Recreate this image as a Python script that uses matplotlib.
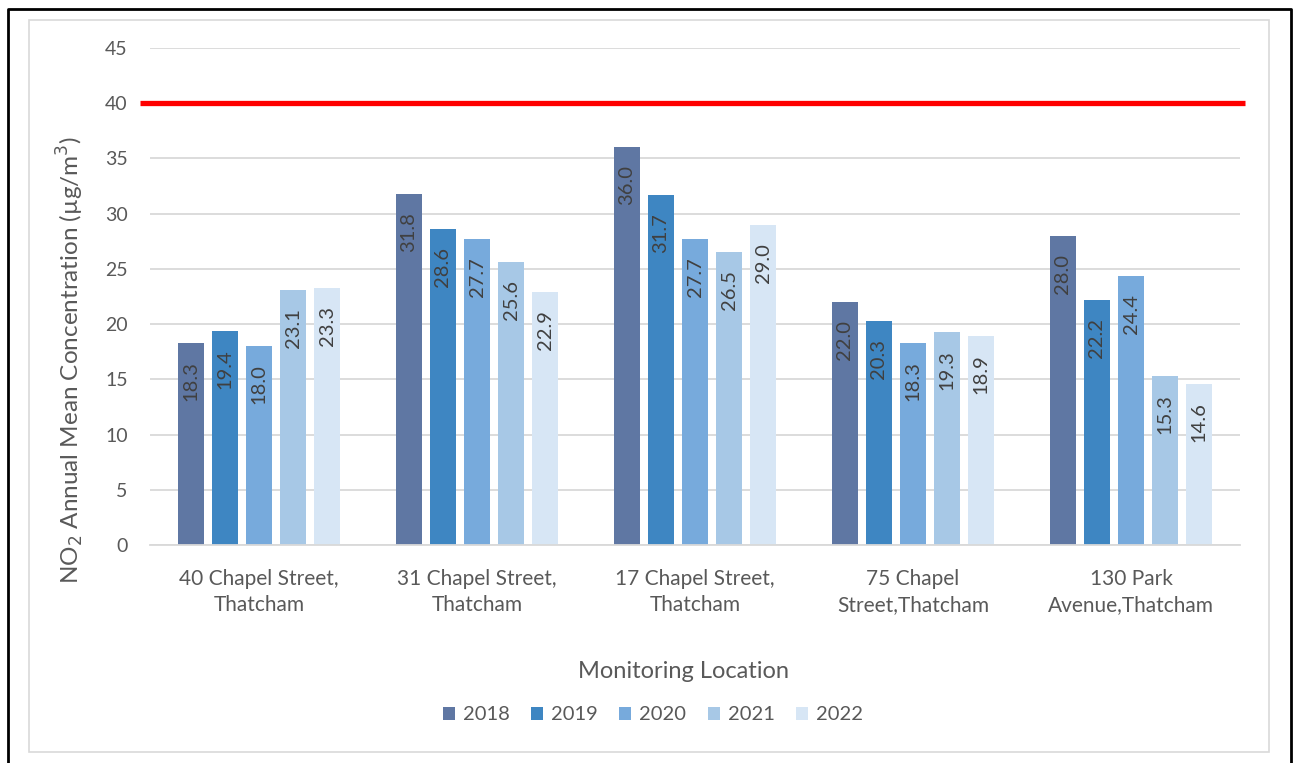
import numpy as np
import matplotlib.pyplot as plt
from matplotlib.patches import Rectangle
from matplotlib.lines import Line2D

plt.rcParams['font.family'] = ['Lato', 'DejaVu Sans']

locations = ["40 Chapel Street,\nThatcham", "31 Chapel Street,\nThatcham",
             "17 Chapel Street,\nThatcham", "75 Chapel\nStreet,Thatcham",
             "130 Park\nAvenue,Thatcham"]
years = ["2018", "2019", "2020", "2021", "2022"]
v2018 = [18.3, 31.8, 36.0, 22.0, 28.0]
v2019 = [19.4, 28.6, 31.7, 20.3, 22.2]
v2020 = [18.0, 27.7, 27.7, 18.3, 24.4]
v2021 = [23.1, 25.6, 26.5, 19.3, 15.3]
v2022 = [23.3, 22.9, 29.0, 18.9, 14.6]
limit = 40
colours = ["#5F77A3", "#3E86C2", "#77AADC", "#A7C8E6", "#D7E6F5"]

series = [v2018, v2019, v2020, v2021, v2022]

fig = plt.figure(figsize=(12.97, 7.63), dpi=100)
ax = fig.add_axes([150/1297, 1-545/763, 1090/1297, 497/763])

x = np.arange(len(locations))
step = 0.156
width = 0.12
txt = "#404040"
grey = "#595959"
for i, (vals, yr) in enumerate(zip(series, years)):
    pos = x + (i - 2) * step
    bars = ax.bar(pos, vals, width, color=colours[i], label=yr, zorder=2)
    for b, v in zip(bars, vals):
        ax.annotate(f"{v:.1f}", (b.get_x() + b.get_width()/2, v),
                    xytext=(0, -13), textcoords="offset points", rotation=90,
                    ha="center", va="top", fontsize=14.5, color=txt, zorder=3)

ax.set_xlim(-0.5, len(locations) - 0.5)
ax.set_ylim(0, 45)
ax.set_yticks(range(0, 50, 5))
ax.grid(axis="y", color="#D9D9D9", linewidth=1.3, zorder=0)
for s in ["top", "right", "left"]:
    ax.spines[s].set_visible(False)
ax.spines["bottom"].set_color("#D9D9D9")
ax.spines["bottom"].set_linewidth(1.3)
ax.tick_params(length=0, labelsize=14, colors=grey)
ax.tick_params(axis="y", pad=16)
ax.tick_params(axis="x", pad=17)
ax.set_xticks(x)
ax.set_xticklabels(locations, fontsize=15, color=grey, linespacing=1.4)

# limit value line
ax.plot([-0.545, 4.525], [limit, limit], color="#FF0000", linewidth=3.8,
        clip_on=False, zorder=4, solid_capstyle="butt")

ax.set_ylabel("NO$_2$ Annual Mean Concentration (µg/m$^3$)", fontsize=17.5,
              color=grey)
ax.yaxis.label.set_va("center")
ax.yaxis.set_label_coords((70-150)/1090, (545-360)/497)
ax.set_xlabel("Monitoring Location", fontsize=17, color=grey)
ax.xaxis.label.set_va("center")
ax.xaxis.set_label_coords((684-150)/1090, (545-671)/497)

leg = ax.legend(loc="center", bbox_to_anchor=((653-150)/1090, (545-715)/497), ncol=5,
                frameon=False, fontsize=14.5, handlelength=0.6, handleheight=0.6,
                columnspacing=1.05, handletextpad=0.4, labelcolor=grey)

# chart area and outer frame
fig.patches.append(Rectangle((29/1297, 1-752/763), 1240/1297, 732/763,
                             transform=fig.transFigure, fill=False,
                             edgecolor="#D9D9D9", linewidth=1.2))
fig.lines.append(Line2D([8/1297, 8/1297, 1291/1297, 1291/1297],
                        [0, 1-9/763, 1-9/763, 0], transform=fig.transFigure,
                        color="black", linewidth=2))

fig.savefig("out.png", dpi=100)
